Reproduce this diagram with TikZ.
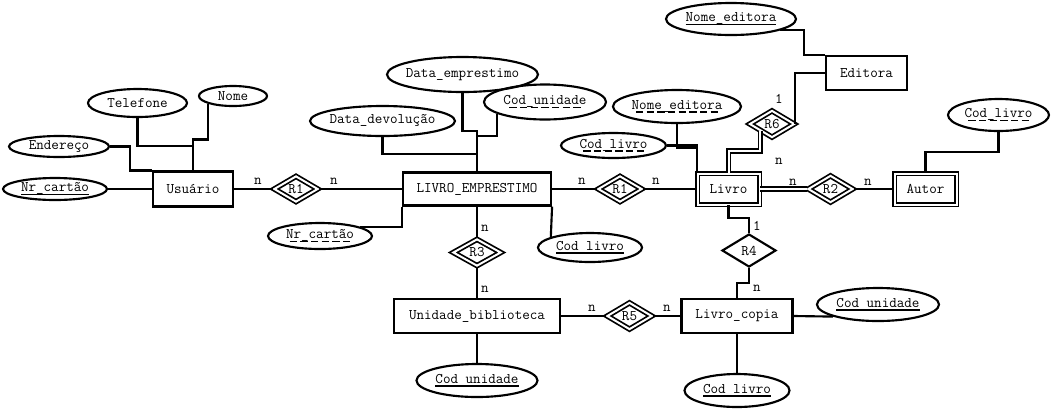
\documentclass[tikz,border=0pt]{standalone}
\usepackage{fontspec}
\usetikzlibrary{shapes.geometric}

% underlined key attributes
\newcommand{\skey}[1]{\setbox0=\hbox{#1}\rlap{\raisebox{-2.6pt}{\vrule width \wd0 height 1.1pt depth 0pt}}\box0}
\newcommand{\dkey}[1]{\setbox0=\hbox{#1}\rlap{\raisebox{-2.6pt}{\hbox to \wd0{\cleaders\hbox to 8pt{\hss\vrule width 5.5pt height 1.1pt depth 0pt\hss}\hfill}}}\box0}

\tikzset{
  dims/.style 2 args={minimum width=#1*0.75pt, minimum height=#2*0.75pt},
  entity/.style={rectangle, draw, line width=1.6pt},
  weakentity/.style={rectangle, draw, double, double distance=1.5pt, line width=1.3pt},
  rel/.style={diamond, draw, line width=1.6pt, inner sep=0pt},
  weakrel/.style={diamond, draw, double, double distance=1.5pt, line width=1.3pt, inner sep=0pt},
  attrib/.style={ellipse, draw, line width=1.6pt, inner xsep=-10pt, inner ysep=0pt},
  card/.style={inner sep=0pt},
  conn/.style={line width=1.6pt},
  dconn/.style={double, double distance=1.5pt, line width=1.3pt}
}

\begin{document}
\begin{tikzpicture}[x=0.75pt, y=-0.75pt, font=\fontsize{11}{13}\selectfont\ttfamily]
  \useasboundingbox (0,0) rectangle (1057,412);
  % entities
  \node[entity, dims={80}{35}] (usu) at (193,189) {Usuário};
  \node[entity, dims={148}{33}] (lemp) at (477,189) {LIVRO\_EMPRESTIMO};
  \node[entity, dims={81}{34}] (edit) at (866.5,73) {Editora};
  \node[entity, dims={166}{34}] (unid) at (477,316) {Unidade\_biblioteca};
  \node[entity, dims={111}{34}] (lcop) at (737,316) {Livro\_copia};
  \node[weakentity, dims={62}{31}] (livro) at (728.5,189) {Livro};
  \node[weakentity, dims={62}{31}] (autor) at (925.5,189) {Autor};
  % relationships
  \node[weakrel, dims={44}{26}] (r1a) at (296,189) {R1};
  \node[weakrel, dims={44}{26}] (r1b) at (620,189) {R1};
  \node[weakrel, dims={45}{27}] (r2) at (830.5,189) {R2};
  \node[weakrel, dims={48}{27}] (r3) at (477,252.5) {R3};
  \node[rel, dims={54}{33}] (r4) at (749,250.5) {R4};
  \node[weakrel, dims={45}{27}] (r5) at (629.5,316) {R5};
  \node[weakrel, dims={45}{27}] (r6) at (772,124) {R6};
  % attributes
  \node[attrib, dims={104}{22}] (nrc1) at (55,189) {\skey{Nr\_cartão}};
  \node[attrib, dims={100}{21}] (ender) at (59,146.5) {Endereço};
  \node[attrib, dims={99}{28}] (tel) at (137.5,103) {Telefone};
  \node[attrib, dims={68}{20}] (nome) at (233,96) {Nome};
  \node[attrib, dims={151}{35}] (demp) at (462.5,74.5) {Data\_emprestimo};
  \node[attrib, dims={145}{30}] (ddev) at (382.5,121) {Data\_devolução};
  \node[attrib, dims={122}{35}] (cun1) at (545,102) {\dkey{Cod\_unidade}};
  \node[attrib, dims={104}{26}] (nrc2) at (320,236) {\dkey{Nr\_cartão}};
  \node[attrib, dims={104}{29}] (cliv1) at (590,247.5) {\skey{Cod\_livro}};
  \node[attrib, dims={130}{32}] (ned1) at (731,19) {\skey{Nome\_editora}};
  \node[attrib, dims={128}{33}] (ned2) at (677,106.5) {\dkey{Nome\_editora}};
  \node[attrib, dims={105}{25}] (cliv2) at (613.5,145.5) {\dkey{Cod\_livro}};
  \node[attrib, dims={101}{32}] (cliv3) at (998.5,115) {\dkey{Cod\_livro}};
  \node[attrib, dims={121}{33}] (cun2) at (477,380.5) {\skey{Cod\_unidade}};
  \node[attrib, dims={105}{33}] (cliv4) at (737,390.5) {\skey{Cod\_livro}};
  \node[attrib, dims={122}{33}] (cun3) at (878,304.5) {\skey{Cod\_unidade}};
  % cardinalities
  \foreach \nm/\txt/\px/\py in {c1/n/258/181, c2/n/334/181, c3/n/582/181, c4/n/656/181,
      c5/n/793/182, c6/n/868/182, c7/n/485/228, c8/n/485/289, c9/n/592/308, c10/n/667/308,
      c11/1/779/99, c12/n/779/161, c13/1/757/226, c14/n/757/288}
    \node[card] (\nm) at (\px,\py) {\txt};
  % straight connectors
  \foreach \src/\dest in {nrc1/usu, usu/r1a, r1a/lemp, lemp/r1b, r1b/livro, r2/autor,
      lemp/r3, r3/unid, unid/r5, r5/lcop, unid/cun2, lcop/cliv4}
    \draw[conn] (\src) -- (\dest);
  \draw[dconn] (livro) -- (r2);
  % bent connectors
  \draw[conn] (ender.east) -- ++(20,0) |- (usu.north west);
  \draw[conn] (tel.south) -- ++(0,28) -| (usu.north);
  \draw[conn] (usu.north) -- ++(0,-31) -| (nome.197);
  \draw[conn] (demp.south) -- ++(0,38) -| (lemp.north);
  \draw[conn] (cun1.194) -- ++(0,22) -| (lemp.north);
  \draw[conn] (ddev.south) -- ++(0,17) -| (lemp.north);
  \draw[conn] (nrc2.13) -| (lemp.south west);
  \draw[conn] (lemp.south east) -- (cliv1.165);
  \draw[conn] (cliv2.east) -| (livro.north west);
  \draw[conn] (ned2.south) -- ++(0,24) -| (livro.north west);
  \draw[dconn] (r6.south west) -- ++(0,20) -| (livro.north);
  \draw[conn] (edit.west) -| (r6.east);
  \draw[conn] (ned1.347) -- ++(24,0) |- (edit.north west);
  \draw[conn] (cliv3.south) -- ++(0,20) -| (autor.north);
  \draw[conn] (livro.south) -- ++(0,13) -| (r4.north);
  \draw[conn] (r4.south) -- ++(0,15) -| (lcop.north);
  \draw[conn] (lcop.east) -- (cun3.195);
\end{tikzpicture}
\end{document}
